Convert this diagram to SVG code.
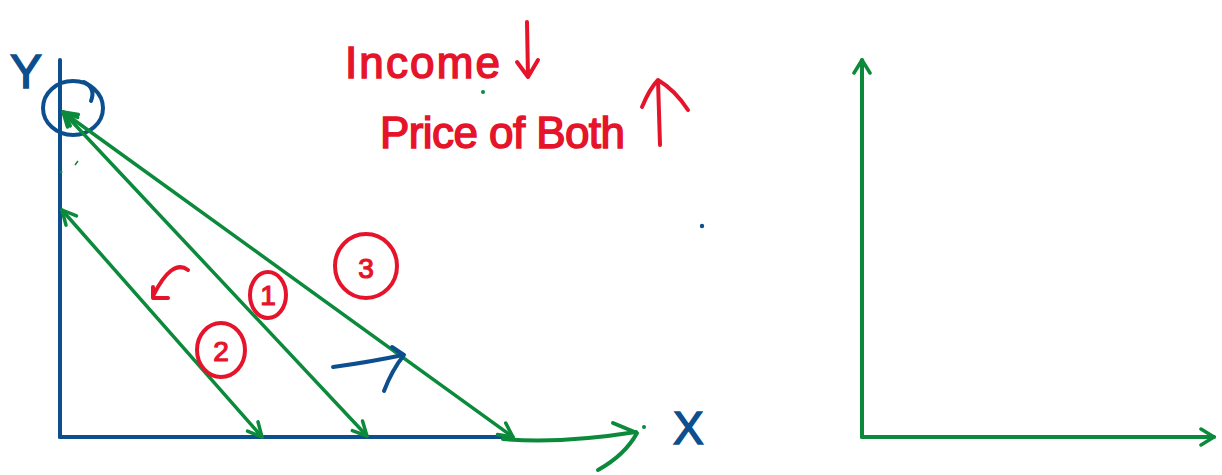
<svg xmlns="http://www.w3.org/2000/svg" width="1222" height="475" viewBox="0 0 1222 475">
<style>
.g{fill:none;stroke:#0b8a3b;stroke-width:3.5;stroke-linecap:round;stroke-linejoin:round}
.ax{fill:none;stroke:#0b8a3b;stroke-width:4;stroke-linecap:round;stroke-linejoin:round}
.b{fill:none;stroke:#0d4f8e;stroke-width:4;stroke-linecap:round;stroke-linejoin:round}
.r{fill:none;stroke:#e5142b;stroke-width:4;stroke-linecap:round;stroke-linejoin:round}
.rt{fill:#e5142b;stroke:#e5142b;stroke-width:1.5;font-family:"Liberation Sans",Arial,sans-serif}
.bt{fill:#0d4f8e;stroke:#0d4f8e;stroke-width:1.5;font-family:"Liberation Sans",Arial,sans-serif}
.num{fill:#e5142b;stroke:#e5142b;stroke-width:1.2;font-family:"Liberation Sans",Arial,sans-serif;font-size:28px;text-anchor:middle}
</style>
<defs>
<marker id="ga" viewBox="0 0 20 20" refX="17" refY="10" markerWidth="20" markerHeight="20" markerUnits="userSpaceOnUse" orient="auto-start-reverse">
<path d="M3,3 L17,10 L3,17" fill="none" stroke="#0b8a3b" stroke-width="3.5" stroke-linecap="round" stroke-linejoin="round"/>
</marker>
<marker id="gax" viewBox="0 0 20 20" refX="17" refY="10" markerWidth="20" markerHeight="20" markerUnits="userSpaceOnUse" orient="auto">
<path d="M4,2 L17,10 L4,18" fill="none" stroke="#0b8a3b" stroke-width="3.5" stroke-linecap="round" stroke-linejoin="round"/>
</marker>
</defs>
<rect width="1222" height="475" fill="#ffffff"/>

<g id="left-axes">
<line class="b" x1="60" y1="60" x2="60" y2="437"/>
<line class="b" x1="60" y1="437" x2="512" y2="437"/>
<text class="bt" x="10" y="88" font-size="48">Y</text>
<text class="bt" x="673" y="444" font-size="46">X</text>
</g>

<g id="origin-circle">
<ellipse class="b" cx="73" cy="108" rx="30" ry="27"/>
<path class="b" d="M84,82 Q96,88 91,101"/>
</g>

<g id="connectors">
<line class="g" x1="62" y1="210" x2="262" y2="437" marker-start="url(#ga)" marker-end="url(#ga)"/>
<line class="g" x1="63" y1="112" x2="367" y2="436" marker-start="url(#ga)" marker-end="url(#ga)"/>
<line class="g" x1="63" y1="112" x2="513" y2="437" marker-start="url(#ga)" marker-end="url(#ga)"/>
<path class="ax" d="M503,439 Q560,444 636,432"/>
<path class="ax" d="M613,423 L637,433 Q625,455 598,470"/>
<path class="b" d="M333,367 Q370,362 403,355"/>
<path class="b" d="M392,347 L404,355 Q392,370 384,391"/>
</g>

<g id="label-1">
<ellipse class="r" cx="268" cy="295" rx="18" ry="23"/>
<text class="num" x="268" y="305">1</text>
</g>
<g id="label-2">
<ellipse class="r" cx="221" cy="350" rx="24" ry="27"/>
<text class="num" x="221" y="361">2</text>
</g>
<g id="label-3">
<ellipse class="r" cx="366" cy="266" rx="31" ry="32"/>
<text class="num" x="366" y="278" font-size="34">3</text>
</g>
<g id="left-shift-arrow">
<path class="r" d="M188,270 Q172,258 153,296"/>
<path class="r" d="M153,287 L153,298 L168,298"/>
</g>

<g id="note">
<text class="rt" x="345" y="78" font-size="44" textLength="155">Income</text>
<path class="r" d="M527,22 L528,77 M517,62 L528,77 L538,60"/>
<text class="rt" x="380" y="148" font-size="44" textLength="245">Price of Both</text>
<path class="r" d="M660,145 L658,80 M642,107 Q650,88 658,80 Q675,90 688,110"/>
</g>

<g id="dots">
<circle cx="483" cy="92" r="2" fill="#0b8a3b"/>
<circle cx="644" cy="427" r="2" fill="#0b8a3b"/>
<circle cx="61" cy="172" r="1.5" fill="#0b8a3b"/>
<line x1="75" y1="165" x2="78" y2="161" stroke="#0b8a3b" stroke-width="1.5"/>
<circle cx="702" cy="226" r="2.2" fill="#0d4f8e"/>
</g>

<g id="right-axes">
<line class="ax" x1="862" y1="437" x2="862" y2="60" marker-end="url(#gax)"/>
<line class="ax" x1="862" y1="437" x2="1214" y2="437" marker-end="url(#gax)"/>
</g>
</svg>
